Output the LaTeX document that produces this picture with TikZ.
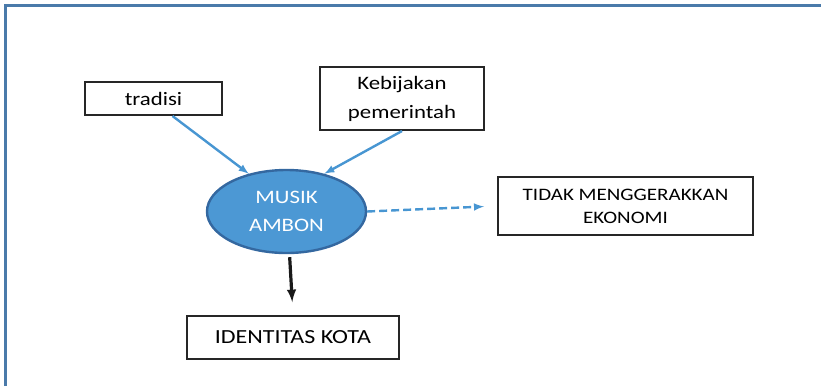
\documentclass[tikz,border=0pt]{standalone}
\usepackage{fontspec}
\setmainfont[FakeStretch=1.2]{Carlito}
\usetikzlibrary{shapes.geometric}

\definecolor{framblue}{RGB}{74,122,170}
\definecolor{arrblue}{RGB}{72,150,210}
\definecolor{ellblue}{RGB}{76,152,212}
\definecolor{elldraw}{RGB}{52,104,160}

\begin{document}
\begin{tikzpicture}[x=1pt, y=-1pt]

\useasboundingbox (0,0) rectangle (821,386);

\tikzstyle{wbox}=[draw=black!85, line width=2pt, shape=rectangle, inner sep=0pt,
align=center];
\tikzstyle{blueline}=[-latex, arrblue, line width=2.4pt];

% frame
\draw[framblue, line width=3pt] (5,386) -- (5,5) -- (821,5);

\node[wbox, minimum width=137pt, minimum height=33pt, font=\fontsize{19}{28}\selectfont] (trad) at (153.5,98.5) {tradisi};
\node[wbox, minimum width=164pt, minimum height=63pt, font=\fontsize{19}{29}\selectfont] (keb) at (402,98.5) {Kebijakan\\pemerintah};
\node[ellipse, draw=elldraw, line width=2.4pt, fill=ellblue, text=white, minimum width=159pt, minimum height=83pt, inner sep=0pt, align=center, font=\fontsize{19}{28}\selectfont] (musik) at (286.5,211.5) {MUSIK\\AMBON};
\node[wbox, minimum width=255pt, minimum height=58pt, font=\fontsize{17.5}{23}\selectfont] (tidak) at (625.5,206) {TIDAK MENGGERAKKAN\\EKONOMI};
\node[wbox, minimum width=212pt, minimum height=43pt, font=\fontsize{20}{24}\selectfont] (ident) at (293,337.5) {IDENTITAS KOTA};

% lines
\draw [blueline] ([xshift=19pt]trad.south) -- (musik.135);
\draw [blueline] (keb.south) -- (musik.45);
\draw [blueline, dashed, dash pattern=on 8pt off 4pt, shorten >=13pt] (musik.east) -- (tidak.west);
\draw [-latex, black!90, line width=3.2pt, shorten <=3pt, shorten >=13pt] ([xshift=3pt]musik.south) -- (ident.north);

\end{tikzpicture}
\end{document}
